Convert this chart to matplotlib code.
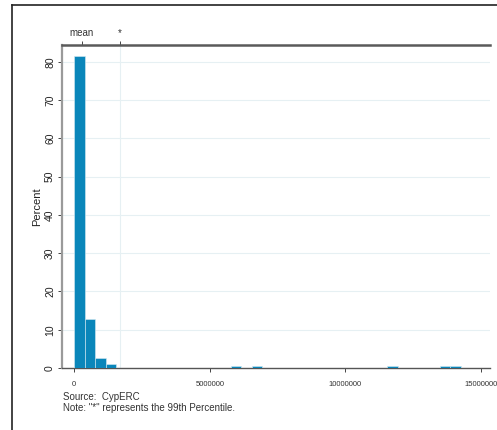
import numpy as np
import matplotlib.pyplot as plt
from matplotlib.lines import Line2D

plt.rcParams['font.family'] = ['Liberation Sans', 'DejaVu Sans']

# histogram: percent of cases per bin (bin width in currency units)
bin_width = 385000
pct = [81.5, 12.8, 2.6, 1.0, 0, 0, 0, 0, 0, 0,
       0, 0, 0, 0, 0, 0.4, 0, 0.4, 0, 0,
       0, 0, 0, 0, 0, 0, 0, 0, 0, 0,
       0.4, 0, 0, 0, 0, 0.4, 0.4, 0, 0]
mean_val = 285000
p99_val = 1680000
xticks = [0, 5000000, 10000000, 15000000]
yticks = [0, 10, 20, 30, 40, 50, 60, 70, 80]

fig = plt.figure(figsize=(4.97, 4.30), dpi=100)
ax = fig.add_axes([62/497, 62/430, 428/497, 323/430])

lefts = np.arange(len(pct)) * bin_width
ax.bar(lefts, pct, width=bin_width, align='edge', color='#0a86ba',
       edgecolor='#d6ebf3', linewidth=0.4, zorder=3)

ax.set_xlim(-450000, 15330000)
ax.set_ylim(0, 84.4)

for y in yticks[1:]:
    ax.axhline(y, color='#e6f0f3', lw=0.8, zorder=1)
ax.axvline(p99_val, color='#e6f0f3', lw=0.8, zorder=1)

ax.set_xticks(xticks)
ax.set_xticklabels([str(v) for v in xticks], fontsize=5.5, color='#333333')
ax.set_yticks(yticks)
ax.set_yticklabels([str(v) for v in yticks], fontsize=7.5, rotation=90,
                   va='center', color='#222222')
ax.tick_params(axis='x', length=3, width=0.7, color='#444444', pad=6)
ax.tick_params(axis='y', length=3, width=0.7, color='#444444', pad=2)
ax.set_ylabel('Percent', fontsize=8, labelpad=2, color='#222222')

ax.spines['right'].set_visible(False)
ax.spines['left'].set_color('#9a9a9a')
ax.spines['left'].set_linewidth(1.6)
ax.spines['bottom'].set_color('#555555')
ax.spines['bottom'].set_linewidth(1.0)
ax.spines['top'].set_color('#5a5a5a')
ax.spines['top'].set_linewidth(1.8)

top = ax.secondary_xaxis('top')
top.set_xticks([mean_val, p99_val])
top.set_xticklabels(['mean', '*'], fontsize=7, color='#333333')
top.tick_params(length=3, width=0.7, color='#444444', pad=2)
top.spines['top'].set_visible(False)

fig.text(63/497, 1 - 397/430, 'Source:  CypERC', fontsize=7, color='#333333', va='center')
fig.text(63/497, 1 - 408/430, 'Note: "*" represents the 99th Percentile.', fontsize=7,
         color='#333333', va='center')

# outer frame
fig.add_artist(Line2D([12/497, 1], [1 - 5/430, 1 - 5/430], color='#222222', lw=1.2))
fig.add_artist(Line2D([12/497, 12/497], [0, 1 - 5/430], color='#222222', lw=1.2))

fig.savefig('out.png', dpi=100)
